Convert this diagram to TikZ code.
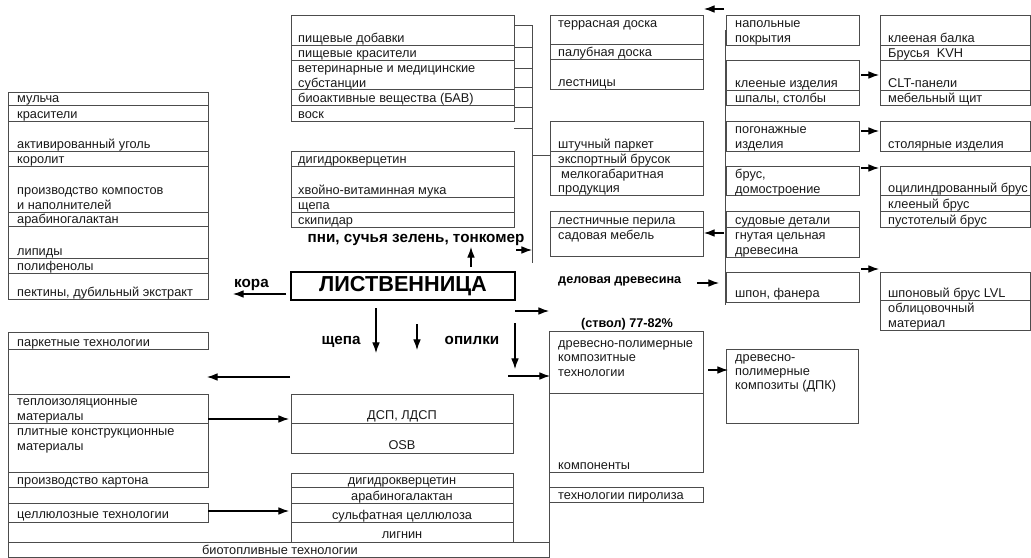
\documentclass[tikz,border=0pt]{standalone}
\usepackage{fontspec}
\setmainfont{Liberation Sans}
\usetikzlibrary{arrows.meta}

\definecolor{lin}{gray}{0.3}
\definecolor{ink}{gray}{0.1}
\newcommand{\fs}{\fontsize{10.9}{12.75}\selectfont}
\newcommand{\fb}{\bfseries\fontsize{13}{15}\selectfont}
\newcommand{\fm}{\bfseries\fontsize{10.8}{13}\selectfont}

\begin{document}
\begin{tikzpicture}[x=0.03cm, y=-0.03cm,
  cell/.style={draw=lin, line width=0.55pt},
  txt/.style={anchor=base west, inner sep=0pt, text=ink, font=\fs},
  ctxt/.style={anchor=base, inner sep=0pt, text=ink, font=\fs},
  lab/.style={anchor=base, inner sep=0pt, font=\fb},
  arr/.style={-{Latex[length=9pt,width=6.5pt]}, line width=0.9pt}]

\useasboundingbox (0,0) rectangle (1031,558);

% bark column
\draw[cell] (8,92) rectangle (208,299);
\foreach \y in {105,121,151,166,212,226,258,273}
    \draw[cell] (8,\y) -- (208,\y);
\node[txt] (mulch) at (17,102) {мульча};
\node[txt] (dyes) at (17,118) {красители};
\node[txt] (coal) at (17,148) {активированный уголь};
\node[txt] (korolit) at (17,163) {королит};
\node[txt] (comp1) at (17,194) {производство компостов};
\node[txt] (comp2) at (17,209) {и наполнителей};
\node[txt] (arab) at (17,223) {арабиногалактан};
\node[txt] (lipid) at (17,255) {липиды};
\node[txt] (polyph) at (17,270) {полифенолы};
\node[txt] (pectin) at (17,296) {пектины, дубильный экстракт};

% greenery columns
\draw[cell] (291,15) rectangle (514,121);
\foreach \y in {45,60,89,105}
    \draw[cell] (291,\y) -- (514,\y);
\node[txt] (food) at (298,42) {пищевые добавки};
\node[txt] (fdye) at (298,57) {пищевые красители};
\node[txt] (vet1) at (298,72) {ветеринарные и медицинские};
\node[txt] (vet2) at (298,87) {субстанции};
\node[txt] (bav) at (298,102) {биоактивные вещества (БАВ)};
\node[txt] (wax) at (298,118) {воск};

\draw[cell] (291,151) rectangle (514,227);
\foreach \y in {166,197,212}
    \draw[cell] (291,\y) -- (514,\y);
\node[txt] (dhq) at (298,163) {дигидрокверцетин};
\node[txt] (flour) at (298,194) {хвойно-витаминная мука};
\node[txt] (chip) at (298,209) {щепа};
\node[txt] (turp) at (298,224) {скипидар};

\node[lab] (stumps) at (416,242) {пни, сучья зелень, тонкомер};

\foreach \y in {25,47,68,87,107,128}
    \draw[cell] (514,\y) -- (532,\y);
\coordinate (busT) at (532,25);
\coordinate (busB) at (532,263);
\coordinate (busM) at (532,155);
\coordinate (parq) at (550,155);
\draw[cell] (busT) -- (busB);
\draw[cell] (busM) -- (parq);

% timber columns
\draw[cell] (550,15) rectangle (703,89);
\foreach \y in {44,59}
    \draw[cell] (550,\y) -- (703,\y);
\node[txt] (terr) at (558,27) {террасная доска};
\node[txt] (deck) at (558,56) {палубная доска};
\node[txt] (stair) at (558,86) {лестницы};

\draw[cell] (550,121) rectangle (703,195);
\foreach \y in {151,166}
    \draw[cell] (550,\y) -- (703,\y);
\node[txt] (piece) at (558,148) {штучный паркет};
\node[txt] (bar) at (558,163) {экспортный брусок};
\node[txt] (small1) at (561,178) {мелкогабаритная};
\node[txt] (small2) at (558,192) {продукция};

\draw[cell] (550,211) rectangle (703,256);
\draw[cell] (550,227) -- (703,227);
\node[txt] (rail) at (558,224) {лестничные перила};
\node[txt] (garden) at (558,239) {садовая мебель};

\node[anchor=base west, inner sep=0pt, font=\fm] (lumber) at (558,283) {деловая древесина};

\draw[cell] (725,30) -- (725,305);
\draw[cell] (726,15) rectangle (859,45);
\node[txt] (floor1) at (735,27) {напольные};
\node[txt] (floor2) at (735,42) {покрытия};
\draw[cell] (726,60) rectangle (859,105);
\draw[cell] (726,90) -- (859,90);
\node[txt] (glued) at (735,87) {клееные изделия};
\node[txt] (sleep) at (735,102) {шпалы, столбы};
\draw[cell] (726,121) rectangle (859,151);
\node[txt] (mold1) at (735,133) {погонажные};
\node[txt] (mold2) at (735,148) {изделия};
\draw[cell] (726,166) rectangle (859,195);
\node[txt] (beam1) at (735,178) {брус,};
\node[txt] (beam2) at (735,193) {домостроение};
\draw[cell] (726,211) rectangle (859,257);
\draw[cell] (726,227) -- (859,227);
\node[txt] (ship) at (735,224) {судовые детали};
\node[txt] (bent1) at (735,239) {гнутая цельная};
\node[txt] (bent2) at (735,254) {древесина};
\draw[cell] (726,272) rectangle (859,302);
\node[txt] (veneer) at (735,297) {шпон, фанера};

\draw[cell] (880,15) rectangle (1030,105);
\foreach \y in {45,60,90}
    \draw[cell] (880,\y) -- (1030,\y);
\node[txt] (glulam) at (888,42) {клееная балка};
\node[txt] (kvh) at (888,57) {Брусья\ \ KVH};
\node[txt] (clt) at (888,87) {CLT-панели};
\node[txt] (panel) at (888,102) {мебельный щит};
\draw[cell] (880,121) rectangle (1030,151);
\node[txt] (join) at (888,148) {столярные изделия};
\draw[cell] (880,166) rectangle (1030,227);
\foreach \y in {195,211}
    \draw[cell] (880,\y) -- (1030,\y);
\node[txt] (round) at (888,192) {оцилиндрованный брус};
\node[txt] (gbeam) at (888,208) {клееный брус};
\node[txt] (hollow) at (888,224) {пустотелый брус};
\draw[cell] (880,272) rectangle (1030,330);
\draw[cell] (880,300) -- (1030,300);
\node[txt] (lvl) at (888,297) {шпоновый брус LVL};
\node[txt] (clad1) at (888,312) {облицовочный};
\node[txt] (clad2) at (888,327) {материал};

% arrows on the right
\foreach \y in {75,131,168,269}
    \draw[arr] (861,\y) -- (879,\y);
\coordinate (r1a) at (724,9);   \coordinate (r1b) at (704,9);
\coordinate (r2a) at (724,233); \coordinate (r2b) at (704,233);
\coordinate (r3a) at (697,283); \coordinate (r3b) at (719,283);
\draw[arr] (r1a) -- (r1b);
\draw[arr] (r2a) -- (r2b);
\draw[arr] (r3a) -- (r3b);

% larch
\node[draw=black, line width=1.1pt, minimum width=224*0.03cm, minimum height=28*0.03cm,
      inner sep=0pt, font=\bfseries\fontsize{18.5}{20}\selectfont] (larch) at (403,286) {ЛИСТВЕННИЦА};

\node[anchor=base west, inner sep=0pt, font=\fb] (bark) at (234,287) {кора};
\coordinate (k1) at (286,294); \coordinate (k2) at (233,294);
\draw[arr] (k1) -- (k2);

\coordinate (u1) at (471,267); \coordinate (u2) at (471,247);
\draw[arr] (u1) -- (u2);
\coordinate (s1) at (516,250); \coordinate (s2) at (532,250);
\draw[arr] (s1) -- (s2);

\coordinate (w1) at (515,311); \coordinate (w2) at (549,311);
\draw[arr] (w1) -- (w2);

\node[lab] (chips) at (341,344) {щепа};
\node[lab] (dust) at (472,344) {опилки};
\coordinate (d1a) at (376,308); \coordinate (d1b) at (376,353);
\coordinate (d2a) at (417,324); \coordinate (d2b) at (417,350);
\coordinate (d3a) at (515,323); \coordinate (d3b) at (515,369);
\draw[arr] (d1a) -- (d1b);
\draw[arr] (d2a) -- (d2b);
\draw[arr] (d3a) -- (d3b);

\coordinate (l1) at (290,377); \coordinate (l2) at (207,377);
\draw[arr] (l1) -- (l2);
\coordinate (c1) at (508,376); \coordinate (c2) at (550,376);
\draw[arr] (c1) -- (c2);

% stem
\node[anchor=base, inner sep=0pt, font=\fm] (stem) at (627,327) {(ствол) 77-82\%};
\draw[cell] (549,331) rectangle (703,472);
\draw[cell] (549,393) -- (703,393);
\node[txt] (wpc1) at (558,347) {древесно-полимерные};
\node[txt] (wpc2) at (558,361) {композитные};
\node[txt] (wpc3) at (558,376) {технологии};
\node[txt] (parts) at (558,469) {компоненты};
\draw[cell] (549,487) rectangle (703,502);
\node[txt] (pyro) at (558,499) {технологии пиролиза};
\draw[cell] (549,472) -- (549,558);

\draw[cell] (726,349) rectangle (858,423);
\node[txt] (dpk1) at (735,361) {древесно-};
\node[txt] (dpk2) at (735,375) {полимерные};
\node[txt] (dpk3) at (735,389) {композиты (ДПК)};
\coordinate (p1) at (708,370); \coordinate (p2) at (728,370);
\draw[arr] (p1) -- (p2);

% chips and sawdust
\draw[cell] (8,332) -- (8,558);
\draw[cell] (8,332) rectangle (208,349);
\node[txt] (parqt) at (17,346) {паркетные технологии};

\draw[cell] (8,394) rectangle (208,487);
\foreach \y in {423,472}
    \draw[cell] (8,\y) -- (208,\y);
\node[txt] (ins1) at (17,405) {теплоизоляционные};
\node[txt] (ins2) at (17,420) {материалы};
\node[txt] (slab1) at (17,435) {плитные конструкционные};
\node[txt] (slab2) at (17,450) {материалы};
\node[txt] (card) at (17,484) {производство картона};
\draw[cell] (8,503) rectangle (208,522);
\node[txt] (cell) at (17,518) {целлюлозные технологии};

\draw[cell] (291,394) rectangle (513,453);
\draw[cell] (291,423) -- (513,423);
\node[ctxt] (dsp) at (402,419) {ДСП, ЛДСП};
\node[ctxt] (osb) at (402,449) {OSB};
\draw[cell] (291,473) rectangle (513,542);
\foreach \y in {487,503,522}
    \draw[cell] (291,\y) -- (513,\y);
\node[ctxt] (dhq2) at (402,484) {дигидрокверцетин};
\node[ctxt] (arab2) at (402,500) {арабиногалактан};
\node[ctxt] (sulf) at (402,519) {сульфатная целлюлоза};
\node[ctxt] (lign) at (402,538) {лигнин};

\coordinate (b1a) at (208,419); \coordinate (b1b) at (289,419);
\coordinate (b2a) at (208,511); \coordinate (b2b) at (289,511);
\draw[arr] (b1a) -- (b1b);
\draw[arr] (b2a) -- (b2b);

\draw[cell] (8,542) rectangle (549,557.5);
\node[ctxt] (fuel) at (280,554) {биотопливные технологии};

\end{tikzpicture}
\end{document}
